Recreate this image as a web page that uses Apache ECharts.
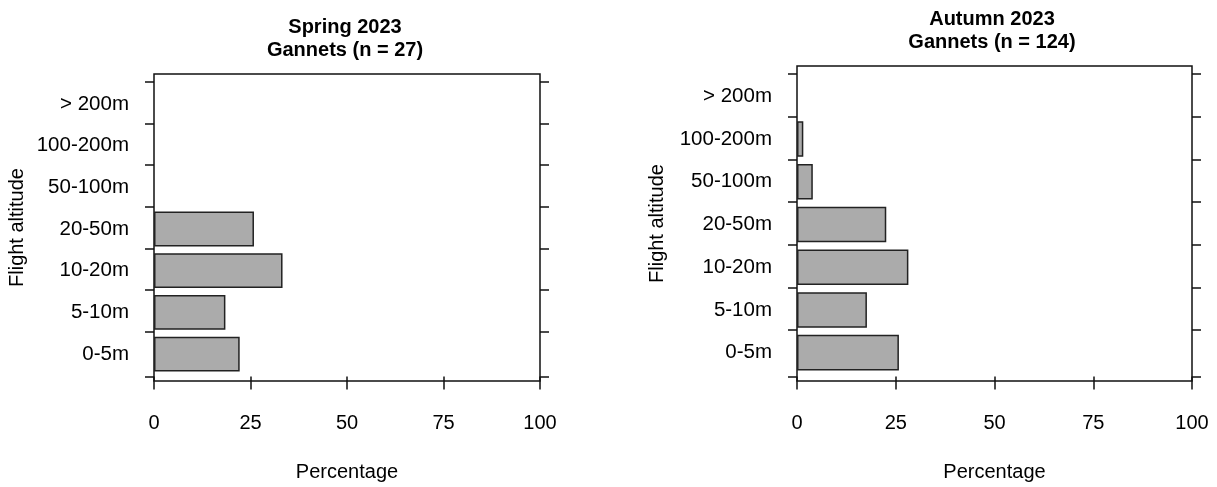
<!DOCTYPE html>
<html>
<head>
<meta charset="utf-8">
<script src="https://cdn.jsdelivr.net/npm/echarts@6/dist/echarts.min.js"></script>
<style>
  html, body { margin: 0; padding: 0; background: #fff; }
  #chart { width: 1217px; height: 487px; }
</style>
</head>
<body>
<div id="chart"></div>
<script>
// ---- data ----
const categories = ['0-5m', '5-10m', '10-20m', '20-50m', '50-100m', '100-200m', '> 200m'];
const springValues = [22.2, 18.5, 33.3, 25.9, 0, 0, 0];
const autumnValues = [25.8, 17.7, 28.2, 22.6, 4.0, 1.6, 0];
const xTickValues = [0, 25, 50, 75, 100];
const titles = ['Spring 2023\nGannets (n = 27)', 'Autumn 2023\nGannets (n = 124)'];
const xName = 'Percentage';
const yName = 'Flight altitude';

// ---- layout (R barplot style: width 1, space 0.2, 4% padding) ----
const nCat = categories.length;
const yMin = 0.2 - 0.04 * (1.2 * nCat - 0.2);
const yMax = 1.2 * nCat + 0.04 * (1.2 * nCat - 0.2);
const yTicks = [0];
for (let i = 1; i <= nCat; i++) yTicks.push(+(0.1 + 1.2 * i).toFixed(2));

const FONT = 'Liberation Sans, Arial, sans-serif';
const LW = 1.5;
const panels = [
  { frame: { left: 154, top: 74, width: 386, height: 309 }, data: { left: 154, top: 83, width: 386, height: 292 }, values: springValues, title: titles[0], cx: 340, ty: 11, nameGap: 127 },
  { frame: { left: 797, top: 66, width: 395, height: 316 }, data: { left: 797, top: 75, width: 395, height: 299 }, values: autumnValues, title: titles[1], cx: 987, ty: 3, nameGap: 130 }
];

const grid = [], xAxis = [], yAxis = [], series = [], title = [];
panels.forEach((p, k) => {
  const gF = grid.length;
  grid.push(Object.assign({ show: true, borderColor: '#111', borderWidth: LW, backgroundColor: 'transparent' }, p.frame));
  const gD = grid.length;
  grid.push(Object.assign({ show: false }, p.data));

  xAxis.push({
    gridIndex: gF, type: 'value', min: 0, max: 100, interval: 25,
    axisLine: { show: false },
    axisTick: { show: true, length: 13, inside: false, lineStyle: { color: '#111', width: LW } },
    axisLabel: { show: true, margin: 32, fontFamily: FONT, fontSize: 20, color: '#000',
      customValues: xTickValues },
    splitLine: { show: false },
    name: xName, nameLocation: 'middle', nameGap: 81,
    nameTextStyle: { fontFamily: FONT, fontSize: 20, color: '#000' }
  });
  const xD = xAxis.length;
  xAxis.push({ gridIndex: gD, type: 'value', min: 0, max: 100, show: false, splitLine: { show: false } });

  yAxis.push({
    gridIndex: gF, type: 'value', min: yMin, max: yMax, position: 'left',
    axisLine: { show: false },
    axisTick: { show: true, length: 9, customValues: yTicks, lineStyle: { color: '#111', width: LW } },
    axisLabel: { show: false },
    splitLine: { show: false },
    name: yName, nameLocation: 'middle', nameGap: p.nameGap,
    nameTextStyle: { fontFamily: FONT, fontSize: 20, color: '#000' }
  });
  yAxis.push({
    gridIndex: gF, type: 'value', min: yMin, max: yMax, position: 'right',
    axisLine: { show: false },
    axisTick: { show: true, length: 9, customValues: yTicks, lineStyle: { color: '#111', width: LW } },
    axisLabel: { show: false },
    splitLine: { show: false }
  });
  const yD = yAxis.length;
  yAxis.push({
    gridIndex: gD, type: 'category', data: categories, position: 'left',
    axisLine: { show: false }, axisTick: { show: false },
    axisLabel: { margin: 25, fontFamily: FONT, fontSize: 20.5, color: '#000', interval: 0 },
    splitLine: { show: false }
  });

  series.push({
    type: 'bar', xAxisIndex: xD, yAxisIndex: yD,
    data: p.values.map(v => v === 0 ? { value: v, itemStyle: { borderWidth: 0 } } : v),
    barCategoryGap: '16.67%',
    itemStyle: { color: '#ABABAB', borderColor: '#222', borderWidth: LW },
    silent: true, animation: false
  });

  title.push({
    text: p.title, left: p.cx, top: p.ty, textAlign: 'center',
    textStyle: { fontFamily: FONT, fontSize: 20, fontWeight: 'bold', color: '#000', lineHeight: 23 }
  });
});

const chart = echarts.init(document.getElementById('chart'), null, { renderer: 'canvas' });
chart.setOption({
  animation: false,
  backgroundColor: '#fff',
  title: title,
  grid: grid,
  xAxis: xAxis,
  yAxis: yAxis,
  series: series
});
</script>
</body>
</html>
